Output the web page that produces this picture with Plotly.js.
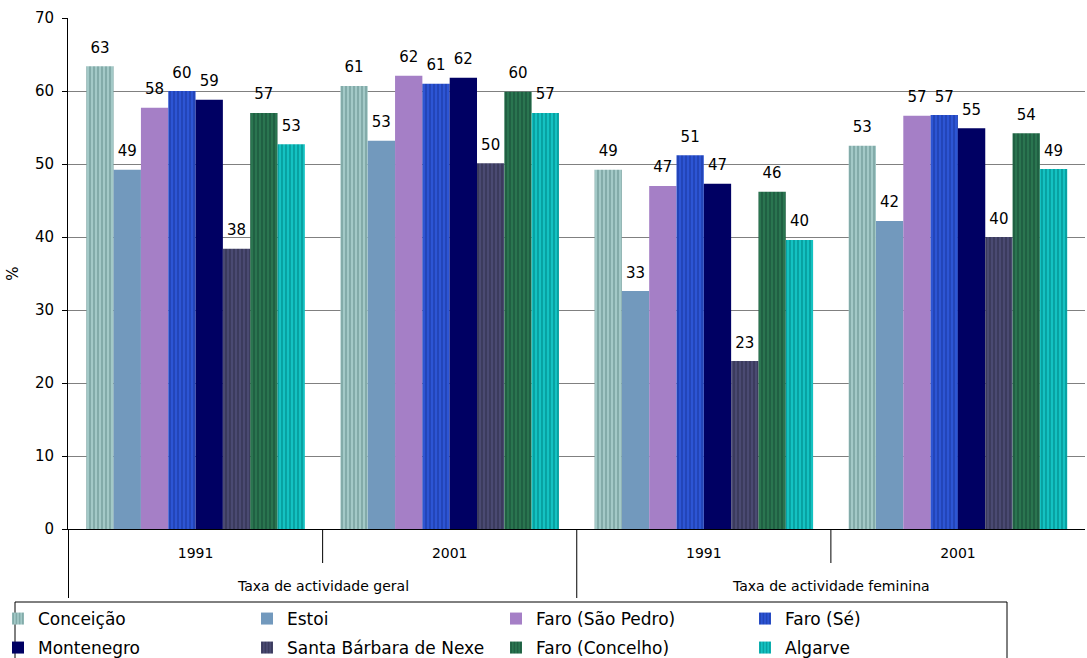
<!DOCTYPE html>
<html><head><meta charset="utf-8">
<script src="https://cdn.plot.ly/plotly-3.0.1.min.js"></script>
<style>html,body{margin:0;padding:0;background:#fff}#chart{width:1087px;height:658px}</style>
</head><body><div id="chart"></div>
<script>
const groups = ['Taxa de actividade geral','Taxa de actividade geral','Taxa de actividade feminina','Taxa de actividade feminina'];
const years = ['1991','2001','1991','2001'];
const groupLabels = ['Taxa de actividade geral','Taxa de actividade feminina'];
const seriesNames = ['Conceição','Estoi','Faro (São Pedro)','Faro (Sé)','Montenegro','Santa Bárbara de Nexe','Faro (Concelho)','Algarve'];
const conceicao = [63.4, 60.7, 49.2, 52.5];
const estoi = [49.2, 53.2, 32.6, 42.2];
const faroSaoPedro = [57.7, 62.1, 47.0, 56.6];
const faroSe = [60.0, 61.0, 51.2, 56.7];
const montenegro = [58.8, 61.8, 47.3, 54.9];
const santaBarbara = [38.4, 50.1, 23.0, 40.0];
const faroConcelho = [57.0, 59.9, 46.2, 54.2];
const algarve = [52.7, 57.0, 39.6, 49.3];
const values = [conceicao, estoi, faroSaoPedro, faroSe, montenegro, santaBarbara, faroConcelho, algarve];

const colors = ['#a3c9c7','#7299bd','#a57fc6','#2d55d4','#000063','#4a4a72','#2a7550','#14c2c2'];
const patFg = ['#6e9795','#7299bd','#a57fc6','#1b3aa6','#000063','#30304f','#18523a','#008c8c'];
const patShape = ['|','','','|','','|','|','|'];

const keys = groups.map((g,i)=>g+' '+years[i]);

const bars = seriesNames.map((n,i)=>({
  type:'bar', name:n, x:keys, y:values[i],
  legend: i<4 ? 'legend' : 'legend2',
  marker:{color:colors[i], line:{width:0},
    pattern:{shape:patShape[i], fgcolor:patFg[i], bgcolor:colors[i], size:4, solidity:0.3}},
  hoverinfo:'skip'
}));
const labels = seriesNames.map((n,i)=>({
  type:'scatter', mode:'markers+text', name:n+' label', x:keys, y:values[i],
  showlegend:false, cliponaxis:false,
  marker:{size:14, opacity:0, color:colors[i]},
  texttemplate:'%{y:.0f}', textposition:'top center',
  textfont:{family:'DejaVu Sans', size:15, color:'#000'},
  hoverinfo:'skip'
}));

const px2x = p => (p-68)/1017;
const py2y = p => (529-p)/511;

const shapes = [];
[-0.5, 0.5, 1.5, 2.5].forEach((c,k)=>{
  shapes.push({type:'line', xref:'x', yref:'paper', x0:c, x1:c, y0:0, y1: (k%2===0)? py2y(598) : py2y(563),
    line:{color:'#000', width:1}});
});
shapes.push({type:'rect', xref:'paper', yref:'paper', x0:px2x(15), x1:px2x(1007), y0:py2y(602), y1:py2y(680),
  line:{color:'#000', width:1}, fillcolor:'rgba(0,0,0,0)', layer:'below'});

const annotations = groupLabels.map((g,k)=>({
  text:g, xref:'x', yref:'paper', x:0.5+2*k, y:py2y(586), xanchor:'center', yanchor:'middle',
  showarrow:false, font:{family:'DejaVu Sans', size:14, color:'#000'}
}));

const legendBase = {orientation:'h', xanchor:'left', yanchor:'top',
  bgcolor:'rgba(0,0,0,0)', borderwidth:0,
  font:{family:'DejaVu Sans', size:17, color:'#000'},
  entrywidth:204, traceorder:'normal'};

const layout = {
  width:1087, height:658,
  margin:{l:68, r:2, t:18, b:129, autoexpand:false},
  paper_bgcolor:'#fff', plot_bgcolor:'#fff',
  font:{family:'DejaVu Sans', color:'#000'},
  barmode:'group', bargap:0.14, bargroupgap:0,
  scattermode:'group', scattergap:0.14,
  showlegend:true,
  legend:Object.assign({}, legendBase, {x:px2x(-2), y:py2y(601)}),
  legend2:Object.assign({}, legendBase, {x:px2x(-2), y:py2y(630)}),
  xaxis:{type:'category', tickvals:keys, ticktext:years, showline:true, linecolor:'#000', linewidth:1,
    ticks:'', ticklabelstandoff:11, showgrid:false,
    tickfont:{family:'DejaVu Sans', size:14, color:'#000'}},
  yaxis:{range:[0,70], dtick:10, showline:true, linecolor:'#000', linewidth:1,
    ticks:'outside', ticklen:5, tickcolor:'#000', ticklabelstandoff:5,
    gridcolor:'#808080', gridwidth:1, zeroline:false,
    tickfont:{family:'DejaVu Sans', size:15, color:'#000'},
    title:{text:'%', font:{family:'DejaVu Sans', size:15, color:'#000'}, standoff:12}},
  shapes:shapes, annotations:annotations
};
Plotly.newPlot('chart', bars.concat(labels), layout, {displayModeBar:false, staticPlot:true});
</script></body></html>
